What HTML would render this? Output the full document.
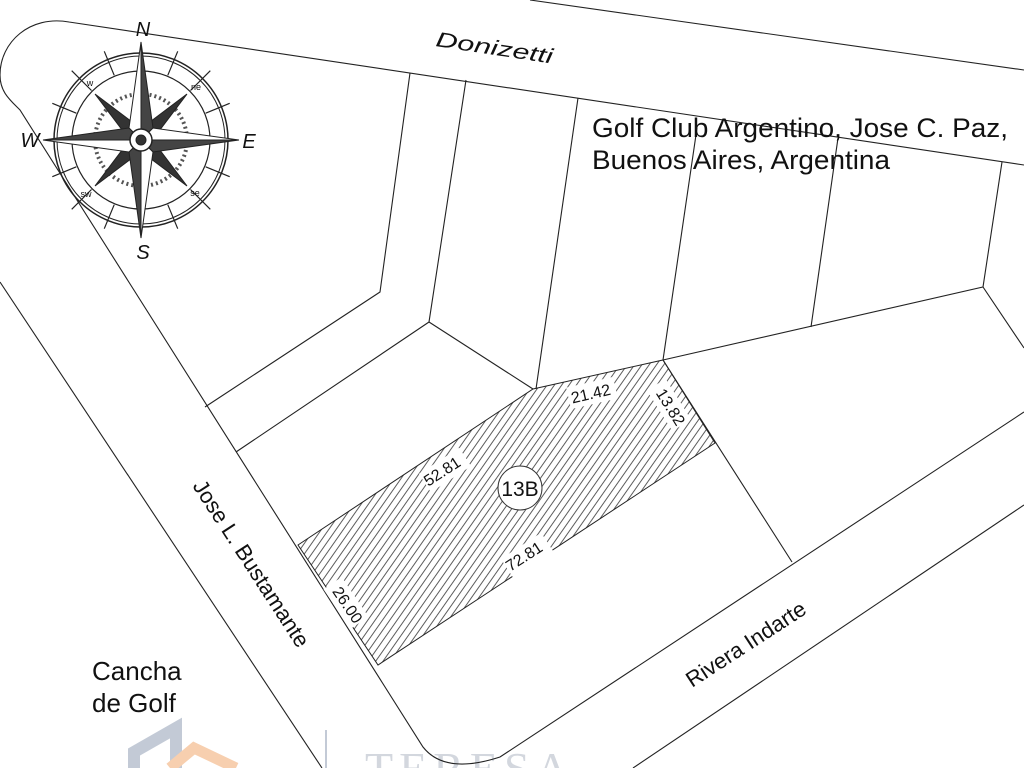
<!DOCTYPE html>
<html><head><meta charset="utf-8"><style>
html,body{margin:0;padding:0;background:#fff;}
svg{display:block;}
text{font-family:"Liberation Sans",sans-serif;fill:#111;}
</style></head><body>
<svg width="1024" height="768" viewBox="0 0 1024 768" xmlns="http://www.w3.org/2000/svg">
<defs>
<pattern id="h" width="6" height="6" patternUnits="userSpaceOnUse" patternTransform="rotate(35)">
<line x1="3" y1="0" x2="3" y2="6" stroke="#333" stroke-width="0.8"/>
</pattern>
</defs>
<rect width="1024" height="768" fill="#fff"/>

<!-- logo (faint) -->
<polyline points="134,768 134,752 176,728 176,768" fill="none" stroke="#c3cad6" stroke-width="12"/>
<polyline points="170,768 194,748 236,768" fill="none" stroke="#f7cfaf" stroke-width="11"/>
<line x1="326" y1="730" x2="326" y2="768" stroke="#c3cad6" stroke-width="2"/>
<text x="365" y="784" style="font-family:'Liberation Serif',serif;font-size:46px;fill:#d3d7de;letter-spacing:6px">TERESA</text>

<!-- hatched lot -->
<polygon points="298,545 533,389 663,360 715,443 378,665" fill="url(#h)" stroke="#222" stroke-width="1"/>

<g fill="none" stroke="#222" stroke-width="1.1">
<line x1="530" y1="0" x2="1024" y2="70"/>
<path d="M1024,165 L69,22 C30,15 0,42 0,75 C0,92 10,100 20,110 L423,747 Q445,775 500,757 L1024,412"/>
<line x1="0" y1="282" x2="322" y2="768"/>
<line x1="633" y1="768" x2="1024" y2="505"/>
<polyline points="410,73 380,292 205,407"/>
<polyline points="466,80 429,322 236,452"/>
<line x1="429" y1="322" x2="533" y2="389"/>
<line x1="578" y1="98" x2="536" y2="389"/>
<line x1="697" y1="128" x2="663" y2="360"/>
<polyline points="663,360 983,287 1024,348"/>
<line x1="838" y1="138" x2="811" y2="327"/>
<line x1="1002" y1="162" x2="983" y2="287"/>
<line x1="663" y1="360" x2="792" y2="562"/>
</g>

<g fill="#fff">
<rect x="-24" y="-11" width="48" height="22" transform="translate(445,470) rotate(-33)"/>
<rect x="-24" y="-11" width="48" height="22" transform="translate(592,393) rotate(-13)"/>
<rect x="-24" y="-11" width="48" height="22" transform="translate(669,405) rotate(58)"/>
<rect x="-24" y="-11" width="48" height="22" transform="translate(527,555) rotate(-33)"/>
<rect x="-24" y="-11" width="48" height="22" transform="translate(346,603) rotate(56)"/>
</g>
<g style="font-size:16px" text-anchor="middle">
<text transform="translate(445,476) rotate(-33)">52.81</text>
<text transform="translate(592,399) rotate(-13)">21.42</text>
<text transform="translate(666,410) rotate(58)">13.82</text>
<text transform="translate(527,561) rotate(-33)">72.81</text>
<text transform="translate(343,608) rotate(56)">26.00</text>
</g>
<circle cx="520" cy="488" r="22" fill="#fff" stroke="#333" stroke-width="1"/>
<text x="520" y="496" text-anchor="middle" style="font-size:21px">13B</text>

<text transform="translate(435,46) rotate(8.5)" style="font-size:21px;font-style:italic" textLength="118" lengthAdjust="spacingAndGlyphs">Donizetti</text>
<text transform="translate(192,486) rotate(57)" style="font-size:22px">Jose L. Bustamante</text>
<text transform="translate(692,688) rotate(-33)" style="font-size:22px">Rivera Indarte</text>
<text x="592" y="137" style="font-size:27px" textLength="416" lengthAdjust="spacingAndGlyphs">Golf Club Argentino, Jose C. Paz,</text>
<text x="592" y="169" style="font-size:27px" textLength="298" lengthAdjust="spacingAndGlyphs">Buenos Aires, Argentina</text>
<text x="92" y="680" style="font-size:26px">Cancha</text>
<text x="92" y="712" style="font-size:26px">de Golf</text>

<g transform="translate(141,140)" stroke="#222" fill="none">
<circle r="87" stroke-width="1.5"/>
<circle r="84" stroke-width="1"/>
<circle r="69" stroke-width="1.2"/>
<circle r="46" stroke-width="4" stroke-dasharray="2 3" stroke="#555"/>
<g stroke-width="1.2">
<line x1="0" y1="-96" x2="0" y2="-70" transform="rotate(22.5)"/>
<line x1="0" y1="-96" x2="0" y2="-70" transform="rotate(67.5)"/>
<line x1="0" y1="-96" x2="0" y2="-70" transform="rotate(112.5)"/>
<line x1="0" y1="-96" x2="0" y2="-70" transform="rotate(157.5)"/>
<line x1="0" y1="-96" x2="0" y2="-70" transform="rotate(202.5)"/>
<line x1="0" y1="-96" x2="0" y2="-70" transform="rotate(247.5)"/>
<line x1="0" y1="-96" x2="0" y2="-70" transform="rotate(292.5)"/>
<line x1="0" y1="-96" x2="0" y2="-70" transform="rotate(337.5)"/>
<line x1="0" y1="-98" x2="0" y2="-70" transform="rotate(45)"/>
<line x1="0" y1="-98" x2="0" y2="-70" transform="rotate(135)"/>
<line x1="0" y1="-98" x2="0" y2="-70" transform="rotate(225)"/>
<line x1="0" y1="-98" x2="0" y2="-70" transform="rotate(315)"/>
</g>
<g fill="#333" stroke="#222" stroke-width="1">
<polygon points="0,-65 8,-8 0,0 -8,-8" transform="rotate(45)"/>
<polygon points="0,-65 8,-8 0,0 -8,-8" transform="rotate(135)"/>
<polygon points="0,-65 8,-8 0,0 -8,-8" transform="rotate(225)"/>
<polygon points="0,-65 8,-8 0,0 -8,-8" transform="rotate(315)"/>
<polygon points="0,-98 12,-12 0,0" fill="#444"/>
<polygon points="0,-98 -12,-12 0,0" fill="#fff"/>
<polygon points="0,-98 12,-12 0,0" fill="#444" transform="rotate(90)"/>
<polygon points="0,-98 -12,-12 0,0" fill="#fff" transform="rotate(90)"/>
<polygon points="0,-98 12,-12 0,0" fill="#444" transform="rotate(180)"/>
<polygon points="0,-98 -12,-12 0,0" fill="#fff" transform="rotate(180)"/>
<polygon points="0,-98 12,-12 0,0" fill="#444" transform="rotate(270)"/>
<polygon points="0,-98 -12,-12 0,0" fill="#fff" transform="rotate(270)"/>
</g>
<circle r="11" fill="#fff" stroke-width="1.5"/>
<circle r="5" fill="#333"/>
</g>
<g style="font-size:20px;font-style:italic" text-anchor="middle">
<text x="143" y="36">N</text>
<text x="143" y="259">S</text>
<text x="30" y="147">W</text>
<text x="249" y="148">E</text>
</g>
<g style="font-size:9px" text-anchor="middle">
<text x="90" y="86">w</text>
<text x="196" y="90">ne</text>
<text x="86" y="197">sw</text>
<text x="195" y="196">se</text>
</g>
</svg>
</body></html>
